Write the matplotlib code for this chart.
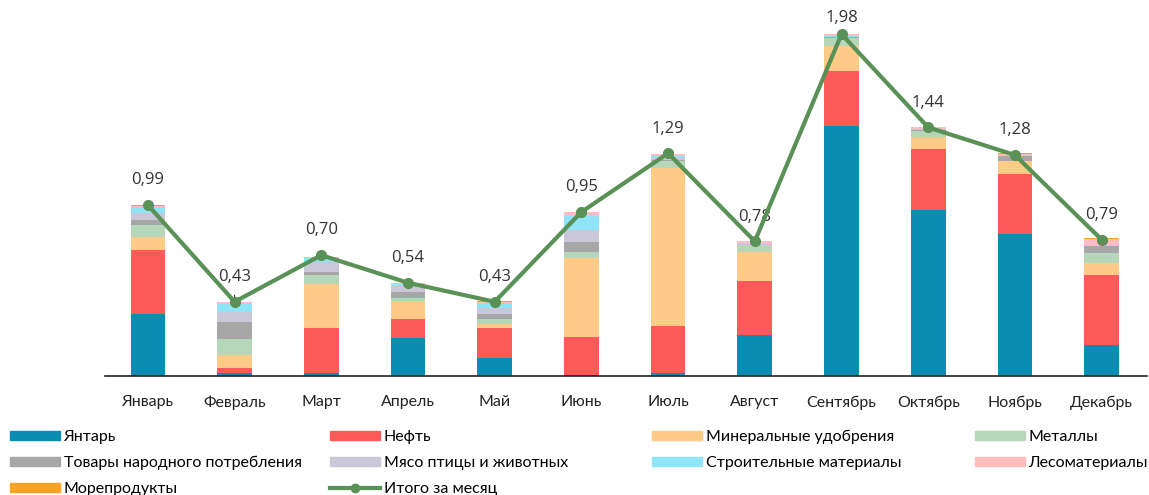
import matplotlib.pyplot as plt
import numpy as np
from matplotlib.patches import Patch
from matplotlib.lines import Line2D

# months and stacked components (billions)
months = ["Январь", "Февраль", "Март", "Апрель", "Май", "Июнь",
          "Июль", "Август", "Сентябрь", "Октябрь", "Ноябрь", "Декабрь"]

amber = [0.36, 0.02, 0.015, 0.22, 0.106, 0.003, 0.015, 0.239, 1.447, 0.964, 0.823, 0.181]
oil = [0.37, 0.025, 0.265, 0.11, 0.173, 0.224, 0.275, 0.31, 0.318, 0.349, 0.347, 0.405]
fert = [0.075, 0.077, 0.253, 0.106, 0.025, 0.455, 0.916, 0.172, 0.147, 0.069, 0.073, 0.069]
metals = [0.07, 0.093, 0.052, 0.015, 0.027, 0.039, 0.038, 0.035, 0.044, 0.039, 0.005, 0.058]
goods = [0.03, 0.10, 0.015, 0.035, 0.031, 0.058, 0.01, 0.005, 0.008, 0.005, 0.025, 0.04]
meat = [0.037, 0.058, 0.061, 0.035, 0.031, 0.068, 0.01, 0.005, 0.002, 0.002, 0.002, 0.002]
build = [0.035, 0.05, 0.02, 0.013, 0.027, 0.085, 0.01, 0.005, 0.002, 0.002, 0.002, 0.005]
timber = [0.008, 0.005, 0.008, 0.005, 0.01, 0.016, 0.01, 0.01, 0.012, 0.01, 0.01, 0.035]
seafood = [0.004, 0.003, 0.002, 0.001, 0.002, 0.001, 0.002, 0.002, 0.002, 0.002, 0.002, 0.002]
totals = [0.99, 0.43, 0.70, 0.54, 0.43, 0.95, 1.29, 0.78, 1.98, 1.44, 1.28, 0.79]

series = [
    ("Янтарь", amber, "#0A8DB2"),
    ("Нефть", oil, "#FF5A5A"),
    ("Минеральные удобрения", fert, "#FFCB87"),
    ("Металлы", metals, "#B6D6BA"),
    ("Товары народного потребления", goods, "#A6A7A6"),
    ("Мясо птицы и животных", meat, "#C9C7D8"),
    ("Строительные материалы", build, "#90E4F8"),
    ("Лесоматериалы", timber, "#FFBDBD"),
    ("Морепродукты", seafood, "#F9A326"),
]
line_color = "#5A9156"

plt.rcParams['font.family'] = ['Lato', 'DejaVu Sans']

fig = plt.figure(figsize=(11.49, 4.95), dpi=100)
ax = fig.add_axes([0.091, 0.2404, 0.907, 0.7596])

x = np.arange(len(months))
bottom = np.zeros(len(months))
for name, vals, col in series:
    ax.bar(x, vals, width=0.4, bottom=bottom, color=col, label=name)
    bottom += np.array(vals)

ax.plot(x, totals, color=line_color, lw=3, marker="o", ms=7, zorder=5)

for i, v in enumerate(totals):
    off = 6 if i == 8 else 12
    ax.annotate(f"{v:.2f}".replace(".", ","), (i, v), xytext=(0, off),
                textcoords="offset points", ha="center", va="bottom",
                fontsize=12, color="#333333", family=['Open Sans', 'DejaVu Sans'])
# small leader under the February label
ax.annotate("", (1, totals[1]), xytext=(1, totals[1] + 0.055),
            arrowprops=dict(arrowstyle="-", color="#333333", lw=0.8))

ax.set_xlim(-0.5, 11.52)
ax.set_ylim(0, 2.178)
ax.set_xticks(x)
ax.set_xticklabels(months, fontsize=11.5, color="#222222")
ax.tick_params(axis="x", length=0, pad=14)
ax.set_yticks([])
for s in ["top", "right", "left"]:
    ax.spines[s].set_visible(False)
ax.spines["bottom"].set_color("#222222")
ax.spines["bottom"].set_linewidth(1.2)

# legend laid out in four columns
handles = [Patch(color=c, label=n) for n, _, c in series]
handles.append(Line2D([], [], color=line_color, lw=3, marker="o", ms=6, label="Итого за месяц"))
columns = [[0, 4, 8], [1, 5, 9], [2, 6], [3, 7]]
col_x = [10, 330, 652, 975]
for cx, idx in zip(col_x, columns):
    fig.legend(handles=[handles[k] for k in idx], loc="upper left",
               bbox_to_anchor=(cx / 1149, 1 - 430 / 495), frameon=False,
               fontsize=11.5, handlelength=3.1, handleheight=0.55,
               handletextpad=0.25, labelspacing=0.75, borderpad=0, borderaxespad=0)

fig.savefig("out.png", dpi=100)
